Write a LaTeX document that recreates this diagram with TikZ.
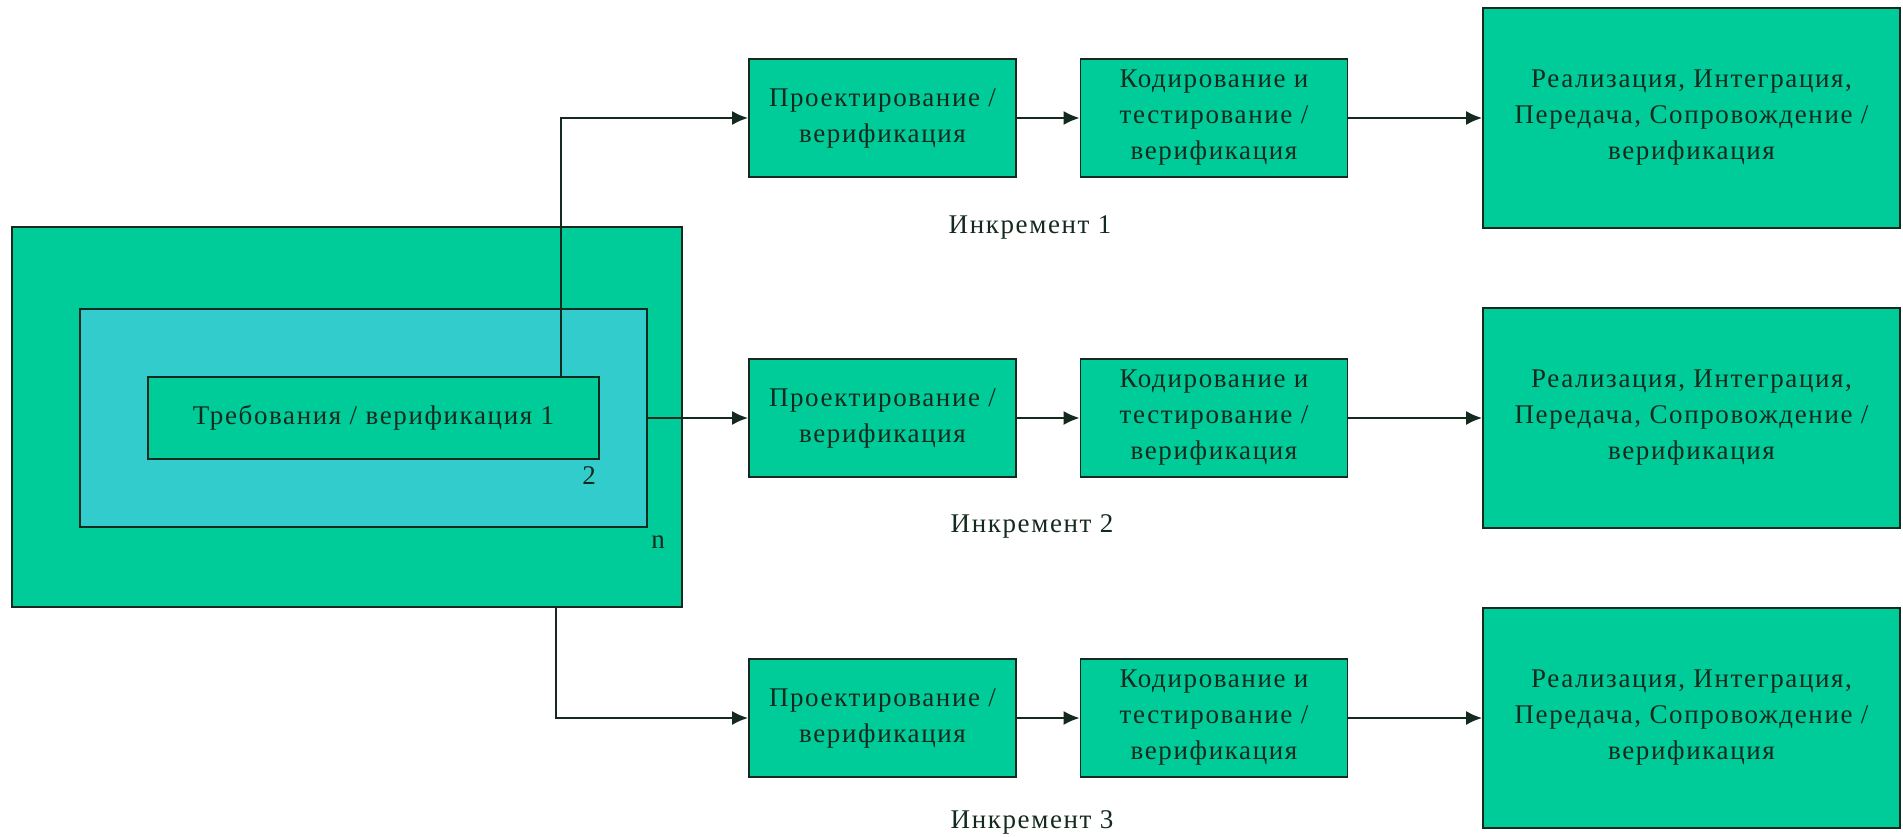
\documentclass[tikz,border=0pt]{standalone}
\usepackage{fontspec}
\setmainfont{Liberation Serif}[LetterSpace=6]
\usetikzlibrary{arrows.meta}
\definecolor{boxgreen}{HTML}{00CC99}
\definecolor{boxcyan}{HTML}{33CCCC}
\definecolor{inkdark}{HTML}{142A1E}
\tikzset{
  stage/.style={draw=inkdark, line width=1.8pt, fill=boxgreen, align=center, inner sep=0pt,
    text=inkdark, font=\fontsize{27}{36}\selectfont},
  small/.style={stage, minimum width=267pt, minimum height=118pt},
  big/.style={stage, minimum width=417pt, minimum height=220pt},
  lbl/.style={font=\fontsize{27}{35}\selectfont, inner sep=0pt, text=inkdark},
  arr/.style={line width=1.8pt, draw=inkdark, -{Latex[length=16pt,width=14pt]}},
}
\begin{document}
\begin{tikzpicture}[x=1pt,y=-1pt]
\useasboundingbox (0,0) rectangle (1903,837);
% left nested boxes
\node[stage, minimum width=670pt, minimum height=380pt] (outer) at (347,417) {};
\node[stage, fill=boxcyan, minimum width=567pt, minimum height=218pt] (middle) at (363.5,418) {};
\node[stage, minimum width=451pt, minimum height=82pt] (inner) at (373.5,418) {Требования / верификация 1};
\node[lbl] (two) at (589,476) {2};
\node[lbl] (nn) at (658,542) {n};
% row 1
\node[small] (a1) at (882.5,118) {Проектирование /\\верификация};
\node[small] (b1) at (1214,118) {Кодирование и\\тестирование /\\верификация};
\node[big] (c1) at (1691.5,118) {Реализация, Интеграция,\\Передача, Сопровождение /\\верификация};
\node[lbl] (inc1) at (1030,227) {Инкремент 1};
% row 2
\node[small] (a2) at (882.5,418) {Проектирование /\\верификация};
\node[small] (b2) at (1214,418) {Кодирование и\\тестирование /\\верификация};
\node[big] (c2) at (1691.5,418) {Реализация, Интеграция,\\Передача, Сопровождение /\\верификация};
\node[lbl] (inc2) at (1032,526) {Инкремент 2};
% row 3
\node[small] (a3) at (882.5,718) {Проектирование /\\верификация};
\node[small] (b3) at (1214,718) {Кодирование и\\тестирование /\\верификация};
\node[big] (c3) at (1691.5,718) {Реализация, Интеграция,\\Передача, Сопровождение /\\верификация};
\node[lbl] (inc3) at (1032,822) {Инкремент 3};
% connectors
\coordinate (v1) at (561,118);
\coordinate (v3) at (556,718);
\draw[arr] (inner.north -| v1) -- (v1) -- (a1.west);
\draw[arr] (middle.east) -- (a2.west);
\draw[arr] (outer.south -| v3) -- (v3) -- (a3.west);
\draw[arr] (a1) -- (b1);
\draw[arr] (b1) -- (c1);
\draw[arr] (a2) -- (b2);
\draw[arr] (b2) -- (c2);
\draw[arr] (a3) -- (b3);
\draw[arr] (b3) -- (c3);
\end{tikzpicture}
\end{document}
